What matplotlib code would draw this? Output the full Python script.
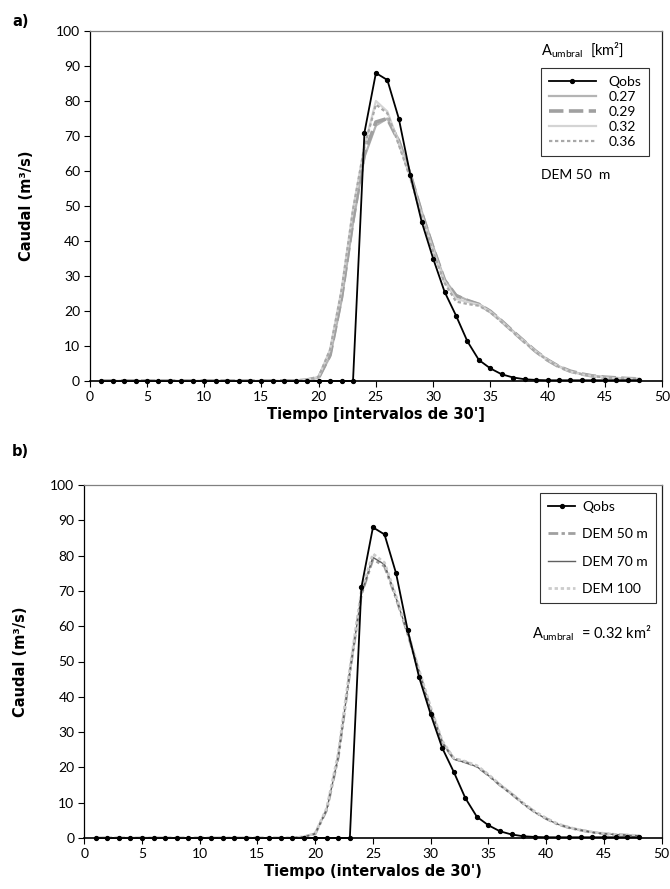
import matplotlib
matplotlib.use("Agg")
import matplotlib.pyplot as plt
from matplotlib.lines import Line2D

plt.rcParams['font.family'] = ['Lato', 'DejaVu Sans']
plt.rcParams['mathtext.fontset'] = 'custom'
plt.rcParams['mathtext.rm'] = 'Lato'
plt.rcParams['mathtext.it'] = 'Lato'

t = list(range(1, 49))

qobs = [0]*23 + [71, 88, 86, 75, 59, 45.5, 35, 25.5, 18.7, 11.3, 6, 3.6, 1.9, 1.0, 0.5,
                 0.3, 0.2, 0.2, 0.2, 0.2, 0.2, 0.2, 0.2, 0.2, 0.2]

zeros18 = [0]*18
a_027 = zeros18 + [0.3, 0.9, 7, 23, 45, 64, 73, 75, 69, 59.5, 48.5, 38.5, 29, 24.6, 23.1, 22.0,
                   20.0, 17.2, 14.2, 11.3, 8.5, 6.1, 4.2, 2.8, 2.0, 1.5, 1.1, 0.9, 0.7, 0.6]
a_029 = zeros18 + [0.3, 1.0, 7.5, 24, 46, 65, 74, 75, 68.5, 59, 48, 38, 28.8, 24.4, 23.0, 21.9,
                   19.9, 17.1, 14.1, 11.2, 8.4, 6.0, 4.1, 2.8, 2.0, 1.4, 1.1, 0.9, 0.7, 0.6]
a_032 = zeros18 + [0.4, 1.2, 9, 26, 49, 67, 80, 77, 68, 58.5, 47.5, 37.5, 28.5, 23.5, 22.6, 21.8,
                   19.8, 17.0, 14.0, 11.2, 8.4, 6.0, 4.1, 2.7, 1.9, 1.4, 1.0, 0.8, 0.7, 0.6]
a_036 = zeros18 + [0.4, 1.2, 9, 26, 49, 67, 79, 76.5, 67.5, 58, 47, 37, 28, 22.7, 22.0, 21.5,
                   19.6, 16.8, 13.9, 11.0, 8.2, 5.9, 4.0, 2.7, 1.9, 1.4, 1.0, 0.8, 0.7, 0.6]

b_dem50 = zeros18 + [0.3, 1.2, 8, 23, 47, 69, 79, 77, 68, 58, 47, 36.5, 27, 22.5, 21.5, 20.3,
                     17.8, 15.0, 12.5, 9.8, 7.4, 5.5, 3.9, 2.9, 2.2, 1.6, 1.2, 1.0, 0.8, 0.7]
b_dem70 = zeros18 + [0.3, 1.2, 8, 23, 47, 69, 79.5, 77.5, 68, 58, 47, 36.5, 27, 22.3, 21.4, 20.2,
                     17.7, 14.9, 12.4, 9.7, 7.3, 5.4, 3.9, 2.9, 2.2, 1.6, 1.2, 1.0, 0.8, 0.7]
b_dem100 = zeros18 + [0.3, 1.3, 8.5, 24, 48, 70, 80.5, 78, 68.5, 58.5, 47.5, 37, 27.5, 22.6, 21.7, 20.5,
                      18.0, 15.1, 12.6, 9.9, 7.5, 5.6, 4.0, 3.0, 2.2, 1.7, 1.3, 1.0, 0.8, 0.7]

xticks = list(range(0, 51, 5))
yticks = list(range(0, 101, 10))

W, H = 670, 889
fig = plt.figure(figsize=(W/100, H/100), dpi=100)

def px_axes(left, top, right, bottom):
    return fig.add_axes([left/W, 1-bottom/H, (right-left)/W, (bottom-top)/H])

A1 = (89.8, 31, 662, 381)
A2 = (84.2, 485, 661.7, 838)
ax1 = px_axes(*A1)
ax2 = px_axes(*A2)

def anchor(A, x, y):
    l, tp, r, b = A
    return ((x-l)/(r-l), 1-(y-tp)/(b-tp))

lab_font = dict(family=['DejaVu Sans'], fontweight='bold', fontsize=10.5)

def style(ax):
    ax.set_xlim(0, 50)
    ax.set_ylim(0, 100)
    ax.set_xticks(xticks)
    ax.set_yticks(yticks)
    ax.tick_params(direction='out', length=4, width=0.8, labelsize=10, pad=3, colors='black')
    ax.spines['top'].set_color('#808080')
    ax.spines['right'].set_color('#202020')
    for s in ax.spines.values():
        s.set_linewidth(0.9)
    ax.spines['bottom'].set_linewidth(1.2)
    ax.set_ylabel('Caudal (m³/s)', labelpad=16, **lab_font)

def qobs_line(ax):
    ax.plot(t, qobs, color='black', lw=1.3, marker='o', ms=2.8, zorder=5, clip_on=False)

# ---- panel a
style(ax1)
ax1.plot(t, a_027, color='#b4b4b4', lw=1.6, zorder=3)
ax1.plot(t, a_029, color='#a0a0a0', lw=2.6, dashes=(4, 1.5), zorder=3)
ax1.plot(t, a_032, color='#d4d4d4', lw=1.6, zorder=3)
ax1.plot(t, a_036, color='#a8a8a8', lw=1.6, dashes=(1.5, 1.2), zorder=3)
qobs_line(ax1)
ax1.set_xlabel("Tiempo [intervalos de 30']", labelpad=3, **lab_font)

h1 = [Line2D([], [], color='black', lw=1.3, marker='o', ms=2.8),
      Line2D([], [], color='#b4b4b4', lw=1.6),
      Line2D([], [], color='#a0a0a0', lw=2.6, dashes=(4, 1.5)),
      Line2D([], [], color='#d4d4d4', lw=1.6),
      Line2D([], [], color='#a8a8a8', lw=1.6, dashes=(1.5, 1.2))]
leg1 = ax1.legend(h1, ['Qobs', '0.27', '0.29', '0.32', '0.36'],
                  loc='upper left', bbox_to_anchor=anchor(A1, 541, 68),
                  fontsize=10, frameon=True, fancybox=False, edgecolor='black',
                  handlelength=3.4, labelspacing=0.22, borderpad=0.55, handletextpad=0.9,
                  borderaxespad=0)
leg1.get_frame().set_linewidth(0.8)
fig.text(541/W, 1-50/H, r'A$_{\mathrm{umbral}}$  [km²]', fontsize=10.5, va='center', ha='left')
fig.text(541/W, 1-175/H, 'DEM 50  m', fontsize=10, va='center', ha='left')
fig.text(12/W, 1-22/H, 'a)', fontsize=10.5, fontweight='bold', family=['DejaVu Sans'],
         va='center', ha='left')

# ---- panel b
style(ax2)
ax2.plot(t, b_dem50, color='#a0a0a0', lw=2.0, dashes=(3.5, 1.2, 1.2, 1.2), zorder=3)
ax2.plot(t, b_dem70, color='#606060', lw=1.0, zorder=3)
ax2.plot(t, b_dem100, color='#cccccc', lw=2.0, dashes=(1.2, 1.0), zorder=3)
qobs_line(ax2)
ax2.set_xlabel("Tiempo (intervalos de 30')", labelpad=3, **lab_font)

h2 = [Line2D([], [], color='black', lw=1.3, marker='o', ms=2.8),
      Line2D([], [], color='#a0a0a0', lw=2.0, dashes=(3.5, 1.2, 1.2, 1.2)),
      Line2D([], [], color='#606060', lw=1.0),
      Line2D([], [], color='#cccccc', lw=2.0, dashes=(1.2, 1.0))]
leg2 = ax2.legend(h2, ['Qobs', 'DEM 50 m', 'DEM 70 m', 'DEM 100'],
                  loc='upper left', bbox_to_anchor=anchor(A2, 540, 493),
                  fontsize=10, frameon=True, fancybox=False, edgecolor='black',
                  handlelength=2.0, labelspacing=1.12, borderpad=0.55, handletextpad=0.5,
                  borderaxespad=0)
leg2.get_frame().set_linewidth(0.8)
fig.text(652/W, 1-633/H, r'A$_{\mathrm{umbral}}$  = 0.32 km²', fontsize=10.5, va='center', ha='right')
fig.text(12/W, 1-452/H, 'b)', fontsize=10.5, fontweight='bold', family=['DejaVu Sans'],
         va='center', ha='left')

fig.savefig('out.png', dpi=100)
